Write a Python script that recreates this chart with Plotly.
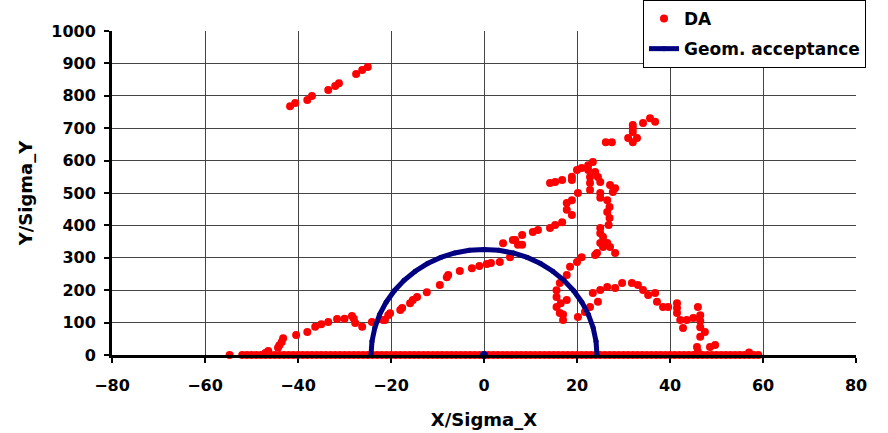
import plotly.graph_objects as go

# DA points: baseline row at y=0
base_x = [-54.7, -52, -51, -50, -49, -48, -47, -46, -45, -44, -43, -42, -41, -40, -39, -38, -37, -36, -35,
          -34, -33, -32, -31, -30, -29, -28, -27, -26, -25, -24, -23, -22, -21, -20, -19, -18, -17, -16,
          -15, -14, -13, -12, -11, -10, -9, -8, -7, -6, -5, -4, -3, -2, -1, 0, 1, 2, 3, 4, 5, 6, 7, 8, 9,
          10, 11, 12, 13, 14, 15, 16, 17, 18, 19, 20, 21, 22, 23, 24, 25, 26, 27, 28, 29, 30, 31, 32, 33,
          34, 35, 36, 37, 38, 39, 40, 41, 42, 43, 44, 45, 46, 47, 48, 49, 50, 51, 52, 53, 54, 55, 56, 57,
          58, 59]
base_y = [0] * len(base_x)

# DA points above baseline
da_x = [-47, -46.4, -44.3, -44, -43.5, -43.2, -40.4, -38, -36.3, -35, -33.5, -31.6, -30, -28.4, -28, -27.7,
        -26.2, -24.1, -21.7, -21.3, -20.6, -20.2, -18, -17.6, -15.9, -15.3, -14.4, -12.3, -9.5, -8, -7.7,
        -5.2, -2.6, -1, 0.6, 1.5, 3.4, 5.6, 4.1, 6.2, 8.2, 8.2, 7.3, 6.7, 10.5, 11.6, 14.2, 15.3, 16.8,
        17.8, 17.8, 18.9, 18.9, 20.2, 14.2, 15.3, 16.8, 18.9, 18.9, 20, 21, 22.4, 23.4, 22.4, 22.8, 22.8,
        22.8, 23.9, 24.5, 25, 27.1, 28.2, 27.7, 25, 25, 26.5, 27, 26.5, 27, 26.8, 25, 25, 25.6, 25, 25.6,
        27.1, 28.2, 24.3, 26.5, 23.9, 21, 20, 18.5, 17.8, 16.3, 15.6, 15.6, 15.6, 16.3, 17, 17.8, 16.5, 17,
        26.2, 27.5, 32, 31, 32.9, 32, 32, 34.2, 35.7, 36.8, 32,
        20.2, 21.7, 22.8, 24.5, 23.4, 25, 26.5, 28.2, 29.7, 31.8, 33.1, 34.2, 35.3, 36.8, 37.2, 38.5, 39.6,
        41.5, 41.5, 41.5, 42.2, 42.8, 43.6, 45, 46, 46.5, 46.5, 46.5, 46.5, 45.8, 47.5, 48.6, 49.7, 57, 46,
        -41.7, -40.6, -38, -37, -33.5, -32, -31.2, -27.5, -26.2, -25]
da_y = [6, 12, 22, 30, 40, 52, 62, 71, 87, 95, 102, 111, 112, 120, 112, 99,
        87, 102, 108, 108, 123, 129, 139, 145, 160, 170, 179, 194, 216, 240, 247,
        259, 268, 275, 281, 284, 287, 302, 345, 355, 370, 340, 340, 355, 380, 386, 392, 401, 410,
        448, 469, 478, 432, 500, 531, 534, 540, 540, 550, 571, 577, 586, 596, 571, 549, 531,
        509, 565, 549, 534, 525, 515, 503, 500, 485, 478, 457, 441, 423, 401, 392, 376, 364, 346, 333,
        333, 315, 315, 346, 309, 302, 287, 272, 247, 222, 200, 179, 148, 130, 108, 170, 160, 125,
        657, 657, 657, 670, 670, 688, 710, 716, 731, 720, 700,
        117, 133, 148, 164, 191, 201, 210, 207, 222, 222, 216, 201, 185, 191, 164, 148, 148,
        160, 145, 130, 108, 83, 108, 114, 148, 123, 105, 86, 56, 25, 71, 25, 31, 8, 10,
        768, 778, 787, 799, 818, 830, 839, 867, 880, 889]

# Geometric acceptance (half ellipse)
acc_x = [24.3, 24.09, 23.47, 22.45, 21.04, 19.28, 17.18, 14.79, 12.15, 9.3, 6.29, 3.17, 0,
         -3.17, -6.29, -9.3, -12.15, -14.79, -17.18, -19.28, -21.04, -22.45, -23.47, -24.09, -24.3]
acc_y = [0, 42.5, 84.4, 124.8, 163, 198.5, 230.5, 258.6, 282.3, 301.2, 314.9, 323.2, 326,
         323.2, 314.9, 301.2, 282.3, 258.6, 230.5, 198.5, 163, 124.8, 84.4, 42.5, 0]
center_x = [0]
center_y = [0]

x_ticks = [-80, -60, -40, -20, 0, 20, 40, 60, 80]
y_ticks = [0, 100, 200, 300, 400, 500, 600, 700, 800, 900, 1000]

FAM = "DejaVu Sans"
tickf = dict(family=FAM, size=16, color="black", weight="bold")
titlef = dict(family=FAM, size=18, color="black", weight="bold")

fig = go.Figure()
fig.add_trace(go.Scatter(x=base_x + da_x, y=base_y + da_y, mode="markers", name="DA",
                         legendgroup="a",
                         marker=dict(color="#ff0000", size=8), cliponaxis=False))
fig.add_trace(go.Scatter(x=acc_x, y=acc_y, mode="lines+markers", name="Geom. acceptance",
                         legendgroup="b",
                         line=dict(color="#000080", width=5), marker=dict(color="#000080", size=5),
                         cliponaxis=False))
fig.add_trace(go.Scatter(x=center_x, y=center_y, mode="markers", showlegend=False,
                         marker=dict(color="#000080", size=8), cliponaxis=False))

fig.update_layout(
    width=888, height=433,
    margin=dict(l=112, r=32, t=31, b=78, autoexpand=False),
    paper_bgcolor="white", plot_bgcolor="white",
    font=tickf,
    showlegend=True,
    legend=dict(xref="container", yref="container", x=643 / 888, y=1 + 3 / 433,
                xanchor="left", yanchor="top",
                bgcolor="white", bordercolor="black", borderwidth=1,
                font=dict(family=FAM, size=17, color="black", weight="bold"),
                tracegroupgap=5, itemsizing="trace"),
    xaxis=dict(range=[-80, 80], tickvals=x_ticks, tickfont=tickf,
               showgrid=True, gridcolor="#444444", gridwidth=1, zeroline=False,
               showline=True, linecolor="black", linewidth=3, ticks="outside", ticklen=5,
               tickwidth=2, tickcolor="black", ticklabelstandoff=9,
               title=dict(text="X/Sigma_X", font=titlef, standoff=20)),
    yaxis=dict(range=[0, 1000], tickvals=y_ticks, tickfont=tickf,
               showgrid=True, gridcolor="#444444", gridwidth=1, zeroline=False,
               showline=True, linecolor="black", linewidth=3, ticks="outside", ticklen=5,
               tickwidth=2, tickcolor="black", ticklabelstandoff=5,
               title=dict(text="Y/Sigma_Y", font=titlef, standoff=14)),
)
fig.write_html("out.html")
